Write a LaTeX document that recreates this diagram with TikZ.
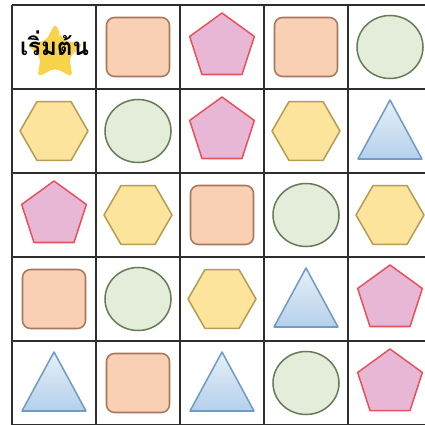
\documentclass[tikz,border=0pt]{standalone}
\usepackage{fontspec}
\newfontfamily\thaifont[Script=Thai]{Loma}

\definecolor{sqfill}{HTML}{F9D0B4}
\definecolor{sqline}{HTML}{A9765B}
\definecolor{pentfill}{HTML}{E9B7D6}
\definecolor{pentline}{HTML}{E8535B}
\definecolor{circfill}{HTML}{E3EDDA}
\definecolor{circline}{HTML}{697C5A}
\definecolor{hexfill}{HTML}{FCE49C}
\definecolor{hexline}{HTML}{B59D52}
\definecolor{tritop}{HTML}{E6F0F9}
\definecolor{tribot}{HTML}{B5D0EA}
\definecolor{triline}{HTML}{6F9BC6}
\definecolor{starfill}{HTML}{F8D44C}
\definecolor{gridline}{HTML}{2E2E2E}

\tikzset{
  shapeline/.style={line width=1.3pt, line join=round},
  pics/sq/.style={code={
    \draw[shapeline,draw=sqline,fill=sqfill,rounded corners=6.8pt]
      (-31.5,-29.5) rectangle (31.5,29.5);}},
  pics/pent/.style={code={
    \draw[shapeline,draw=pentline,fill=pentfill]
      (-90:34) -- (-18:34) -- (54:34) -- (126:34) -- (198:34) -- cycle;}},
  pics/hex/.style={code={
    \draw[shapeline,draw=hexline,fill=hexfill]
      (0:34) -- (60:34) -- (120:34) -- (180:34) -- (240:34) -- (300:34) -- cycle;}},
  pics/circ/.style={code={
    \draw[shapeline,draw=circline,fill=circfill] (0,0) ellipse (33 and 31.5);}},
  pics/tri/.style={code={
    \draw[shapeline,draw=triline,top color=tritop,bottom color=tribot]
      (0,-31) -- (32,28) -- (-32,28) -- cycle;}},
}

\begin{document}
\begin{tikzpicture}[x=0.03cm,y=-0.03cm]

\useasboundingbox (0,0) rectangle (425,425);
\clip (0,0) rectangle (425,425);
\fill[white] (0,0) rectangle (425,425);

% Star behind the start label
\fill[starfill,rounded corners=4pt,shift={(55,53)}]
  (-90:30)
  \foreach \k in {1,...,9}{
    -- ({-90+36*\k}:{mod(\k,2)==1 ? 15 : 30})
  } -- cycle;
\fill[white,opacity=0.6,rounded corners=1pt] (60,29) -- (62,29.5) -- (60,37) -- (58.5,36.5) -- cycle;

% Shapes, one loop per kind (col/row)
\foreach \c/\r in {2/1,4/1,3/3,1/4,2/5}
  \pic at ({54+84*(\c-1)},{47+84*(\r-1)}) {sq};
\foreach \c/\r in {3/1,3/2,1/3,5/4,5/5}
  \pic at ({54+84*(\c-1)},{47+84*(\r-1)}) {pent};
\foreach \c/\r in {5/1,2/2,4/3,2/4,4/5}
  \pic at ({54+84*(\c-1)},{47+84*(\r-1)}) {circ};
\foreach \c/\r in {1/2,4/2,2/3,5/3,3/4}
  \pic at ({54+84*(\c-1)},{47+84*(\r-1)}) {hex};
\foreach \c/\r in {5/2,4/4,1/5,3/5}
  \pic at ({54+84*(\c-1)},{47+84*(\r-1)}) {tri};

% Grid
\foreach \i in {0,...,5}{
  \draw[gridline,line width=1.2pt] ({12+84*\i},5) -- ({12+84*\i},430);
  \draw[gridline,line width=1.2pt] (12,{5+84*\i}) -- (436,{5+84*\i});
}

% Label
\node[anchor=base,inner sep=0pt] (start) at (54.5,56)
  {\thaifont\bfseries\fontsize{20.5}{25}\selectfont เริ่มต้น};

\end{tikzpicture}
\end{document}
